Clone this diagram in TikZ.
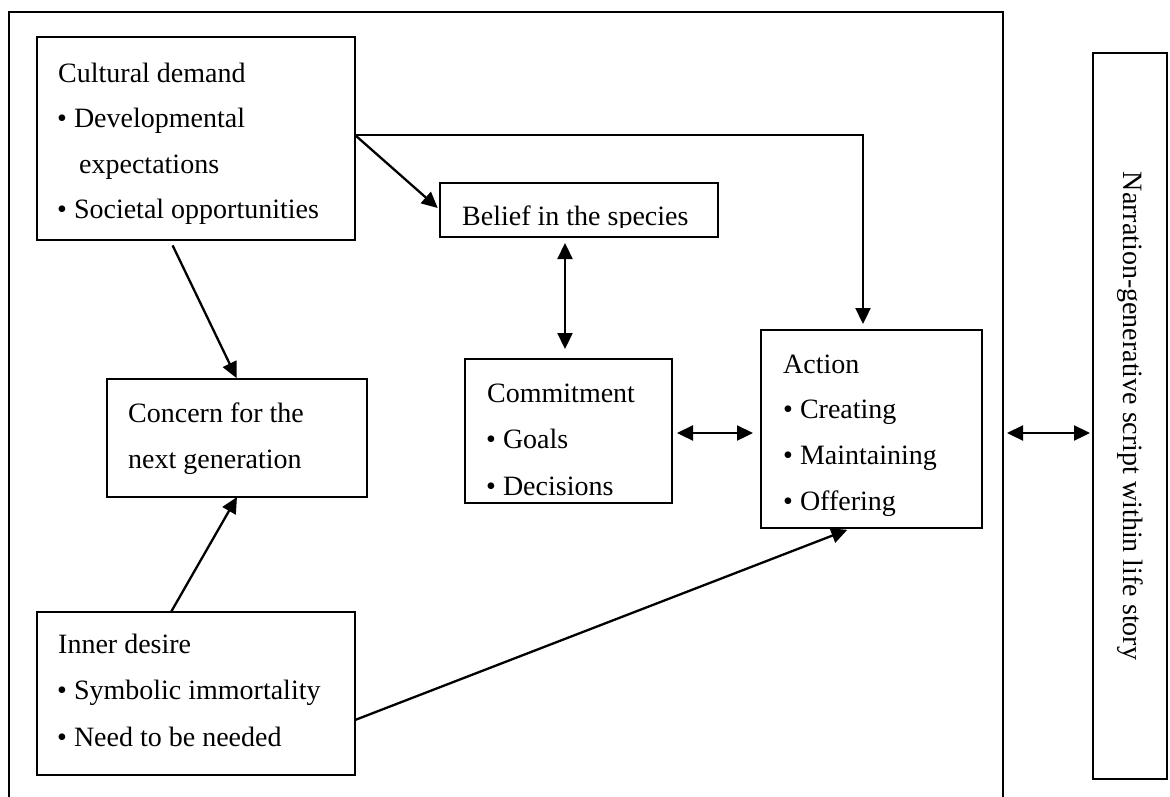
\documentclass[tikz,border=0pt]{standalone}
\usepackage{fontspec}
\setmainfont{Liberation Serif}
\usetikzlibrary{arrows.meta}
\begin{document}
\begin{tikzpicture}[x=1pt,y=-1pt,
  box/.style={draw, line width=1.7pt, inner sep=0pt, outer sep=0pt},
  txt/.style={anchor=base west, inner sep=0pt, font=\fontsize{28}{34}\selectfont},
  link/.style={line width=2.3pt, -{Triangle[length=16pt,width=15pt]}},
  twoway/.style={line width=2.3pt, {Triangle[length=16pt,width=15pt]}-{Triangle[length=16pt,width=15pt]}}]
\clip (0,0) rectangle (1170,796);
\fill[white] (0,0) rectangle (1170,796);

% outer frame (its lower edge runs past the page)
\node[box, minimum width=994pt, minimum height=840pt] (frame) at (506,432) {};

% boxes
\node[box, minimum width=318pt, minimum height=203pt] (cult)   at (196,138.5) {};
\node[box, minimum width=278pt, minimum height=54pt]  (belief) at (579,210) {};
\node[box, minimum width=207pt, minimum height=144pt] (commit) at (568.5,431) {};
\node[box, minimum width=221pt, minimum height=198pt] (act)    at (871.5,429) {};
\node[box, minimum width=260pt, minimum height=118pt] (conc)   at (237,438) {};
\node[box, minimum width=318pt, minimum height=163pt] (inner)  at (196,693.5) {};
\node[box, minimum width=74pt,  minimum height=726pt] (story)  at (1130,416) {};

% box texts
\node[txt] (cult1) at (58,82)    {Cultural demand};
\node[txt] (cult2) at (57,127.5) {• Developmental};
\node[txt] (cult3) at (79,173)   {expectations};
\node[txt] (cult4) at (57,218)   {• Societal opportunities};

\begin{scope}
  \clip (440,183) rectangle (718,227);
  \node[txt] (belief1) at (462,225) {Belief in the species};
\end{scope}

\node[txt] (commit1) at (487,402) {Commitment};
\node[txt] (commit2) at (486,448) {• Goals};
\begin{scope}
  \clip (465,460) rectangle (672,497);
  \node[txt] (commit3) at (486,495) {• Decisions};
\end{scope}

\node[txt] (act1) at (783,373) {Action};
\node[txt] (act2) at (783,418) {• Creating};
\node[txt] (act3) at (783,464) {• Maintaining};
\node[txt] (act4) at (783,510) {• Offering};

\node[txt] (conc1) at (128,422) {Concern for the};
\node[txt] (conc2) at (128,468) {next generation};

\node[txt] (inner1) at (58,653) {Inner desire};
\node[txt] (inner2) at (57,699) {• Symbolic immortality};
\node[txt] (inner3) at (57,746) {• Need to be needed};

\node[inner sep=0pt, rotate=-90, font=\fontsize{28}{34}\selectfont] (story1) at (story.center)
  {Narration-generative script within life story};

% helper rows and columns for the connectors
\coordinate (rowA) at (0,135);
\coordinate (rowB) at (0,433);
\coordinate (rowC) at (0,720);
\coordinate (colA) at (863,0);
\coordinate (colB) at (565,0);
\coordinate (colC) at (170,0);
\coordinate (colD) at (171,0);
\coordinate (colE) at (852,0);
\coordinate (bend) at (colA |- rowA);

% connectors
\draw[link, shorten >=6pt] (cult.east |- rowA) -- (bend) -- (act.north -| colA);
\draw[link, shorten >=3pt] (cult.east |- rowA) -- (belief.west);
\draw[twoway, shorten <=6pt, shorten >=10pt] (belief.south -| colB) -- (commit.north -| colB);
\draw[twoway, shorten <=5pt, shorten >=8pt] (commit.east |- rowB) -- (act.west |- rowB);
\draw[twoway, shorten <=4pt, shorten >=3pt] (frame.east |- rowB) -- (story.west |- rowB);
\draw[link, shorten <=6pt, shorten >=1pt] (cult.south -| colC) -- (conc.north);
\draw[link] (inner.north -| colD) -- (conc.south);
\draw[link, shorten >=5pt] (inner.east |- rowC) -- (act.south -| colE);
\end{tikzpicture}
\end{document}
